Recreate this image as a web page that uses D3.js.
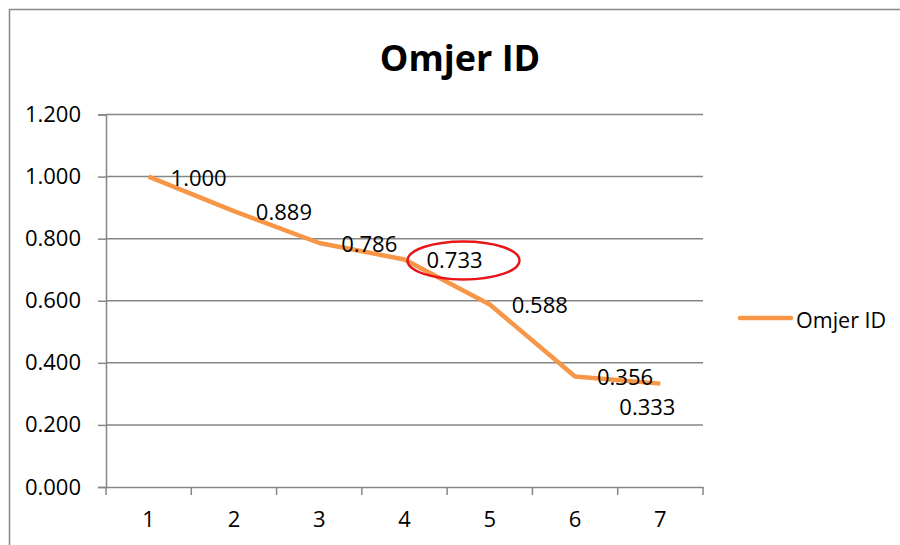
<!DOCTYPE html>
<html>
<head>
<meta charset="utf-8">
<script src="https://cdn.jsdelivr.net/npm/d3@7"></script>
<style>
  body { margin: 0; background: #fff; }
  svg text { font-family: "Open Sans", "Liberation Sans", sans-serif; fill: #000; }
  .axis path, .axis line { stroke: #868686; stroke-width: 1.5; }
  .grid line { stroke: #868686; stroke-width: 1.5; }
</style>
</head>
<body>
<svg id="chart"></svg>
<script>
// podaci
const categories = [1, 2, 3, 4, 5, 6, 7];
const omjerId = [1.000, 0.889, 0.786, 0.733, 0.588, 0.356, 0.333];
const yTicks = [0, 0.2, 0.4, 0.6, 0.8, 1.0, 1.2];
const seriesName = "Omjer ID";
const highlighted = 3; // index of circled label

const width = 900, height = 545;
const margin = {top: 114.5, right: 197, bottom: 58, left: 106};

const svg = d3.select("#chart").attr("width", width).attr("height", height);

// okvir
svg.append("rect")
    .attr("x", 9.5).attr("y", 9.5)
    .attr("width", 1000).attr("height", 1000)
    .attr("fill", "none").attr("stroke", "#888").attr("stroke-width", 1.5);

const x = d3.scaleBand()
    .domain(categories)
    .range([margin.left, width - margin.right]);

const y = d3.scaleLinear()
    .domain([0, 1.2])
    .range([height - margin.bottom, margin.top]);

// naslov
svg.append("text")
    .attr("x", 460).attr("y", 57)
    .attr("text-anchor", "middle")
    .attr("dominant-baseline", "central")
    .style("font-size", "36px")
    .style("font-weight", "bold")
    .text(seriesName);

// mreža
svg.append("g")
    .attr("class", "grid")
    .selectAll("line")
    .data(yTicks.slice(1))
    .enter().append("line")
    .attr("x1", margin.left).attr("x2", width - margin.right)
    .attr("y1", d => y(d)).attr("y2", d => y(d));

// y os
const yAxis = svg.append("g")
    .attr("class", "axis")
    .attr("transform", `translate(${margin.left},0)`)
    .call(d3.axisLeft(y).tickValues(yTicks).tickFormat(d3.format(".3f")).tickSize(8).tickPadding(17));
yAxis.selectAll("text").style("font-size", "22px");

// x os
const xAxis = svg.append("g")
    .attr("class", "axis")
    .attr("transform", `translate(0,${y(0)})`)
    .call(d3.axisBottom(x).tickSize(0).tickPadding(24));
xAxis.selectAll("text").style("font-size", "22px");
xAxis.selectAll(".boundary")
    .data(d3.range(categories.length + 1))
    .enter().append("line")
    .attr("class", "boundary")
    .attr("x1", i => margin.left + i * x.step())
    .attr("x2", i => margin.left + i * x.step())
    .attr("y1", 0).attr("y2", 8);

// linija
const cx = i => x(categories[i]) + x.bandwidth() / 2;
const line = d3.line()
    .x((d, i) => cx(i))
    .y(d => y(d));

svg.append("path")
    .datum(omjerId)
    .attr("fill", "none")
    .attr("stroke", "#F79646")
    .attr("stroke-width", 4.5)
    .attr("stroke-linejoin", "round")
    .attr("d", line);

// oznake podataka (zadnja ide ispod, kao u Excelu)
const last = omjerId.length - 1;
svg.selectAll(".label")
    .data(omjerId)
    .enter().append("text")
    .attr("class", "label")
    .attr("x", (d, i) => i === last ? cx(i) - 13 : cx(i) + 50)
    .attr("y", (d, i) => i === last ? y(d) + 22 : y(d))
    .attr("text-anchor", "middle")
    .attr("dominant-baseline", "central")
    .style("font-size", "22px")
    .text(d => d3.format(".3f")(d));

// crvena elipsa
svg.append("ellipse")
    .attr("cx", cx(highlighted) + 59)
    .attr("cy", y(omjerId[highlighted]) + 1)
    .attr("rx", 56).attr("ry", 19)
    .attr("fill", "none")
    .attr("stroke", "#E8161B")
    .attr("stroke-width", 2.5);

// legenda
const legend = svg.append("g").attr("transform", "translate(740,318)");
legend.append("line")
    .attr("x1", 0).attr("x2", 51)
    .attr("stroke", "#F79646").attr("stroke-width", 4.5)
    .attr("stroke-linecap", "round");
legend.append("text")
    .attr("x", 56).attr("y", 1)
    .attr("dominant-baseline", "central")
    .style("font-size", "21.5px")
    .text(seriesName);
</script>
</body>
</html>
